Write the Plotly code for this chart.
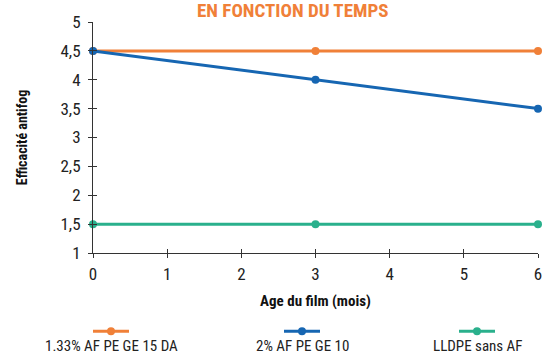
import plotly.graph_objects as go

months = [0, 3, 6]
series_names = ["1.33% AF PE GE 15 DA", "2% AF PE GE 10", "LLDPE sans AF"]
s1 = [4.5, 4.5, 4.5]
s2 = [4.5, 4.0, 3.5]
s3 = [1.5, 1.5, 1.5]
colors = ["#F08038", "#1666B2", "#2AB08C"]
y_ticks = [1, 1.5, 2, 2.5, 3, 3.5, 4, 4.5, 5]
x_ticks = [0, 1, 2, 3, 4, 5, 6]

FONT = "Roboto Condensed, Liberation Sans Narrow, Roboto, sans-serif"
W, H = 555, 356
ML, MR, MT, MB = 93, 17, 17, 103
PW = W - ML - MR
PH = H - MT - MB

fig = go.Figure()
for name, vals, c in zip(series_names, [s1, s2, s3], colors):
    fig.add_trace(go.Scatter(x=months, y=vals, name=name, mode="lines+markers",
                             line=dict(color=c, width=3), marker=dict(color=c, size=8),
                             cliponaxis=False, showlegend=False))

axis_common = dict(showgrid=False, zeroline=False, showline=True, linecolor="#333",
                   linewidth=1, ticks="outside", ticklen=4, tickcolor="#333",
                   tickfont=dict(family=FONT, size=17, color="#222"))
fig.update_layout(
    width=W, height=H, margin=dict(l=ML, r=MR, t=MT, b=MB),
    paper_bgcolor="white", plot_bgcolor="white", separators=", ",
    showlegend=False,
    xaxis=dict(range=[0, 6], tickvals=x_ticks, **axis_common, ticklabelstandoff=2,
               title=dict(text="<b>Age du film (mois)</b>", font=dict(family=FONT, size=15, color="#111"), standoff=12)),
    yaxis=dict(range=[1, 5], tickvals=y_ticks, **axis_common, ticklabelstandoff=4,
               title=dict(text="<b>Efficacité antifog</b>", font=dict(family=FONT, size=14, color="#111"), standoff=29)),
    xaxis2=dict(range=[0, 6], tickvals=x_ticks, overlaying="x", anchor="y", side="bottom",
                showgrid=False, zeroline=False, showline=False, ticks="inside", ticklen=4,
                tickcolor="#333", showticklabels=False),
    yaxis2=dict(range=[1, 5], tickvals=y_ticks, overlaying="y", anchor="x", side="left",
                showgrid=False, zeroline=False, showline=False, ticks="inside", ticklen=4,
                tickcolor="#333", showticklabels=False),
)
fig.add_trace(go.Scatter(x=[None], y=[None], xaxis="x2", yaxis="y2", showlegend=False))

# Title
fig.add_annotation(text="<b>EN FONCTION DU TEMPS</b>", xref="paper", yref="paper",
                   x=(292 - ML) / PW, y=(H - MB - 19) / PH, xanchor="center", yanchor="bottom",
                   showarrow=False, font=dict(family=FONT, size=19, color="#F08038"))

# Legend (symbol above text)
centers = [111, 302, 477]
for name, c, cx in zip(series_names, colors, centers):
    xp = (cx - ML) / PW
    ys = (H - MB - 333) / PH
    yt = (H - MB - 348) / PH
    fig.add_shape(type="line", xref="paper", yref="paper", x0=(cx - 18 - ML) / PW, x1=(cx + 18 - ML) / PW,
                  y0=ys, y1=ys, line=dict(color=c, width=3))
    fig.add_shape(type="circle", xref="paper", yref="paper", xsizemode="pixel", ysizemode="pixel",
                  xanchor=xp, yanchor=ys, x0=-4, x1=4, y0=-4, y1=4,
                  fillcolor=c, line=dict(color=c, width=0))
    fig.add_annotation(text=name, xref="paper", yref="paper", x=xp, y=yt,
                       xanchor="center", yanchor="middle", showarrow=False,
                       font=dict(family=FONT, size=15, color="#222"))

fig.write_html("out.html")
